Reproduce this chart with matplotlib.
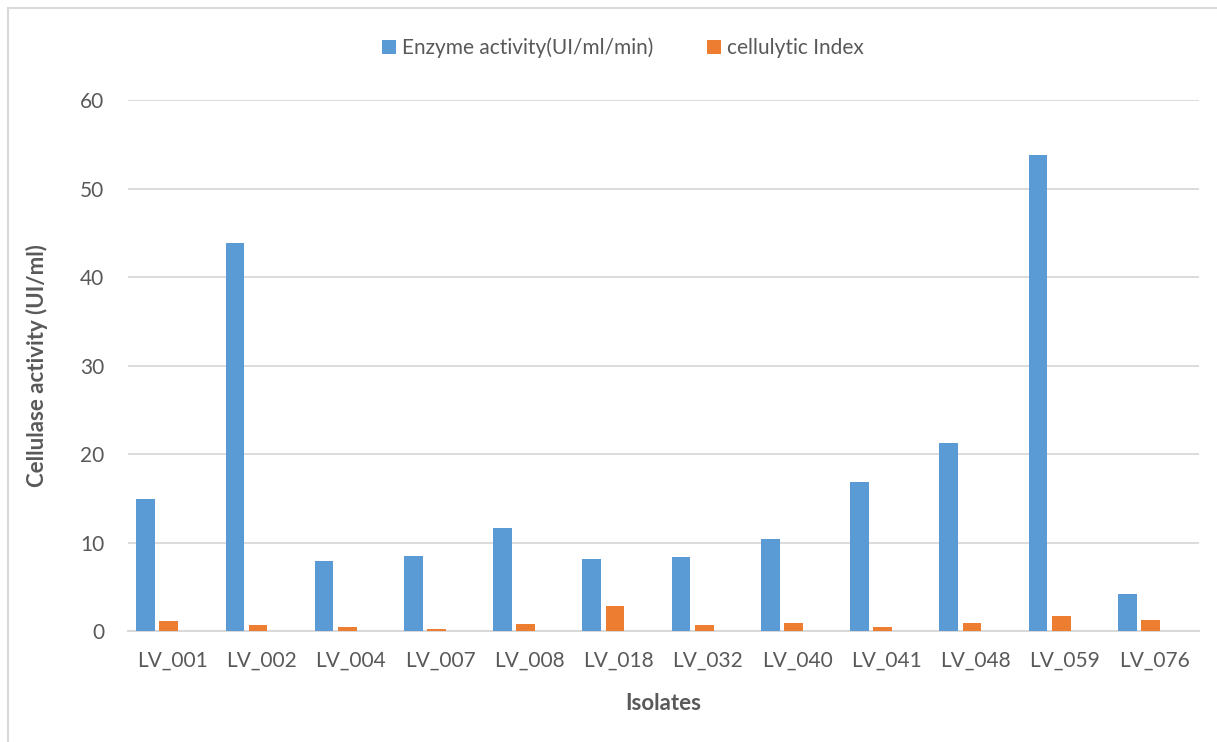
"""Actividad celulasa e indice celulolitico por aislado."""

import matplotlib

matplotlib.use("Agg")
import matplotlib.pyplot as plt
from matplotlib.patches import Rectangle
import numpy as np


aislados = ["LV_001", "LV_002", "LV_004", "LV_007", "LV_008", "LV_018",
            "LV_032", "LV_040", "LV_041", "LV_048", "LV_059", "LV_076"]
actividad = [14.9, 43.8, 7.95, 8.5, 11.65, 8.1, 8.35, 10.4, 16.8, 21.25, 53.75, 4.2]
indice = [1.15, 0.73, 0.4, 0.18, 0.81, 2.77, 0.7, 0.96, 0.4, 0.88, 1.72, 1.19]
ticks_y = [0, 10, 20, 30, 40, 50, 60]

AZUL = "#5B9BD5"
NARANJA = "#ED7D31"
GRIS_TEXTO = "#595959"
GRIS_GRILLA = "#D9D9D9"

plt.rcParams["font.family"] = ["Lato", "DejaVu Sans"]

fig = plt.figure(figsize=(12.17, 7.42), dpi=100)
ax = fig.add_axes([0.105, 0.1496, 0.880, 0.7156])

# marco exterior del grafico
fig.patches.append(Rectangle((8 / 1217, -0.01), 1.02, 1 - 8 / 742 + 0.01,
                             transform=fig.transFigure, fill=False,
                             edgecolor=GRIS_GRILLA, linewidth=1.5))

x = np.arange(len(aislados))
ancho = 0.21
ax.bar(x - 0.30, actividad, ancho, color=AZUL, label="Enzyme activity(UI/ml/min)", zorder=3)
ax.bar(x - 0.04, indice, ancho, color=NARANJA, label="cellulytic Index", zorder=3)

ax.set_xlim(-0.5, len(aislados) - 0.5)
ax.set_ylim(0, 60)
ax.set_yticks(ticks_y)
ax.set_xticks(x)
ax.set_xticklabels(aislados)
ax.yaxis.grid(True, color=GRIS_GRILLA, linewidth=1.3, zorder=0)
ax.set_axisbelow(True)

for lado in ["top", "right", "left"]:
    ax.spines[lado].set_visible(False)
ax.spines["bottom"].set_color(GRIS_GRILLA)
ax.spines["bottom"].set_linewidth(1.5)
ax.tick_params(axis="both", length=0, labelsize=15, colors=GRIS_TEXTO)
ax.tick_params(axis="y", pad=17)
ax.tick_params(axis="x", pad=14)

ax.set_ylabel("Cellulase activity (UI/ml)", fontsize=16, fontweight="bold",
              color=GRIS_TEXTO, labelpad=23)
ax.set_xlabel("Isolates", fontsize=16, fontweight="bold", color=GRIS_TEXTO, labelpad=16)

fig.legend(loc="upper center", bbox_to_anchor=(0.512, 0.975), ncol=2, frameon=False,
           fontsize=15, handlelength=0.65, handleheight=0.65, handletextpad=0.3,
           columnspacing=2.6, labelcolor=GRIS_TEXTO)

fig.savefig("out.png", dpi=100, facecolor="white")
